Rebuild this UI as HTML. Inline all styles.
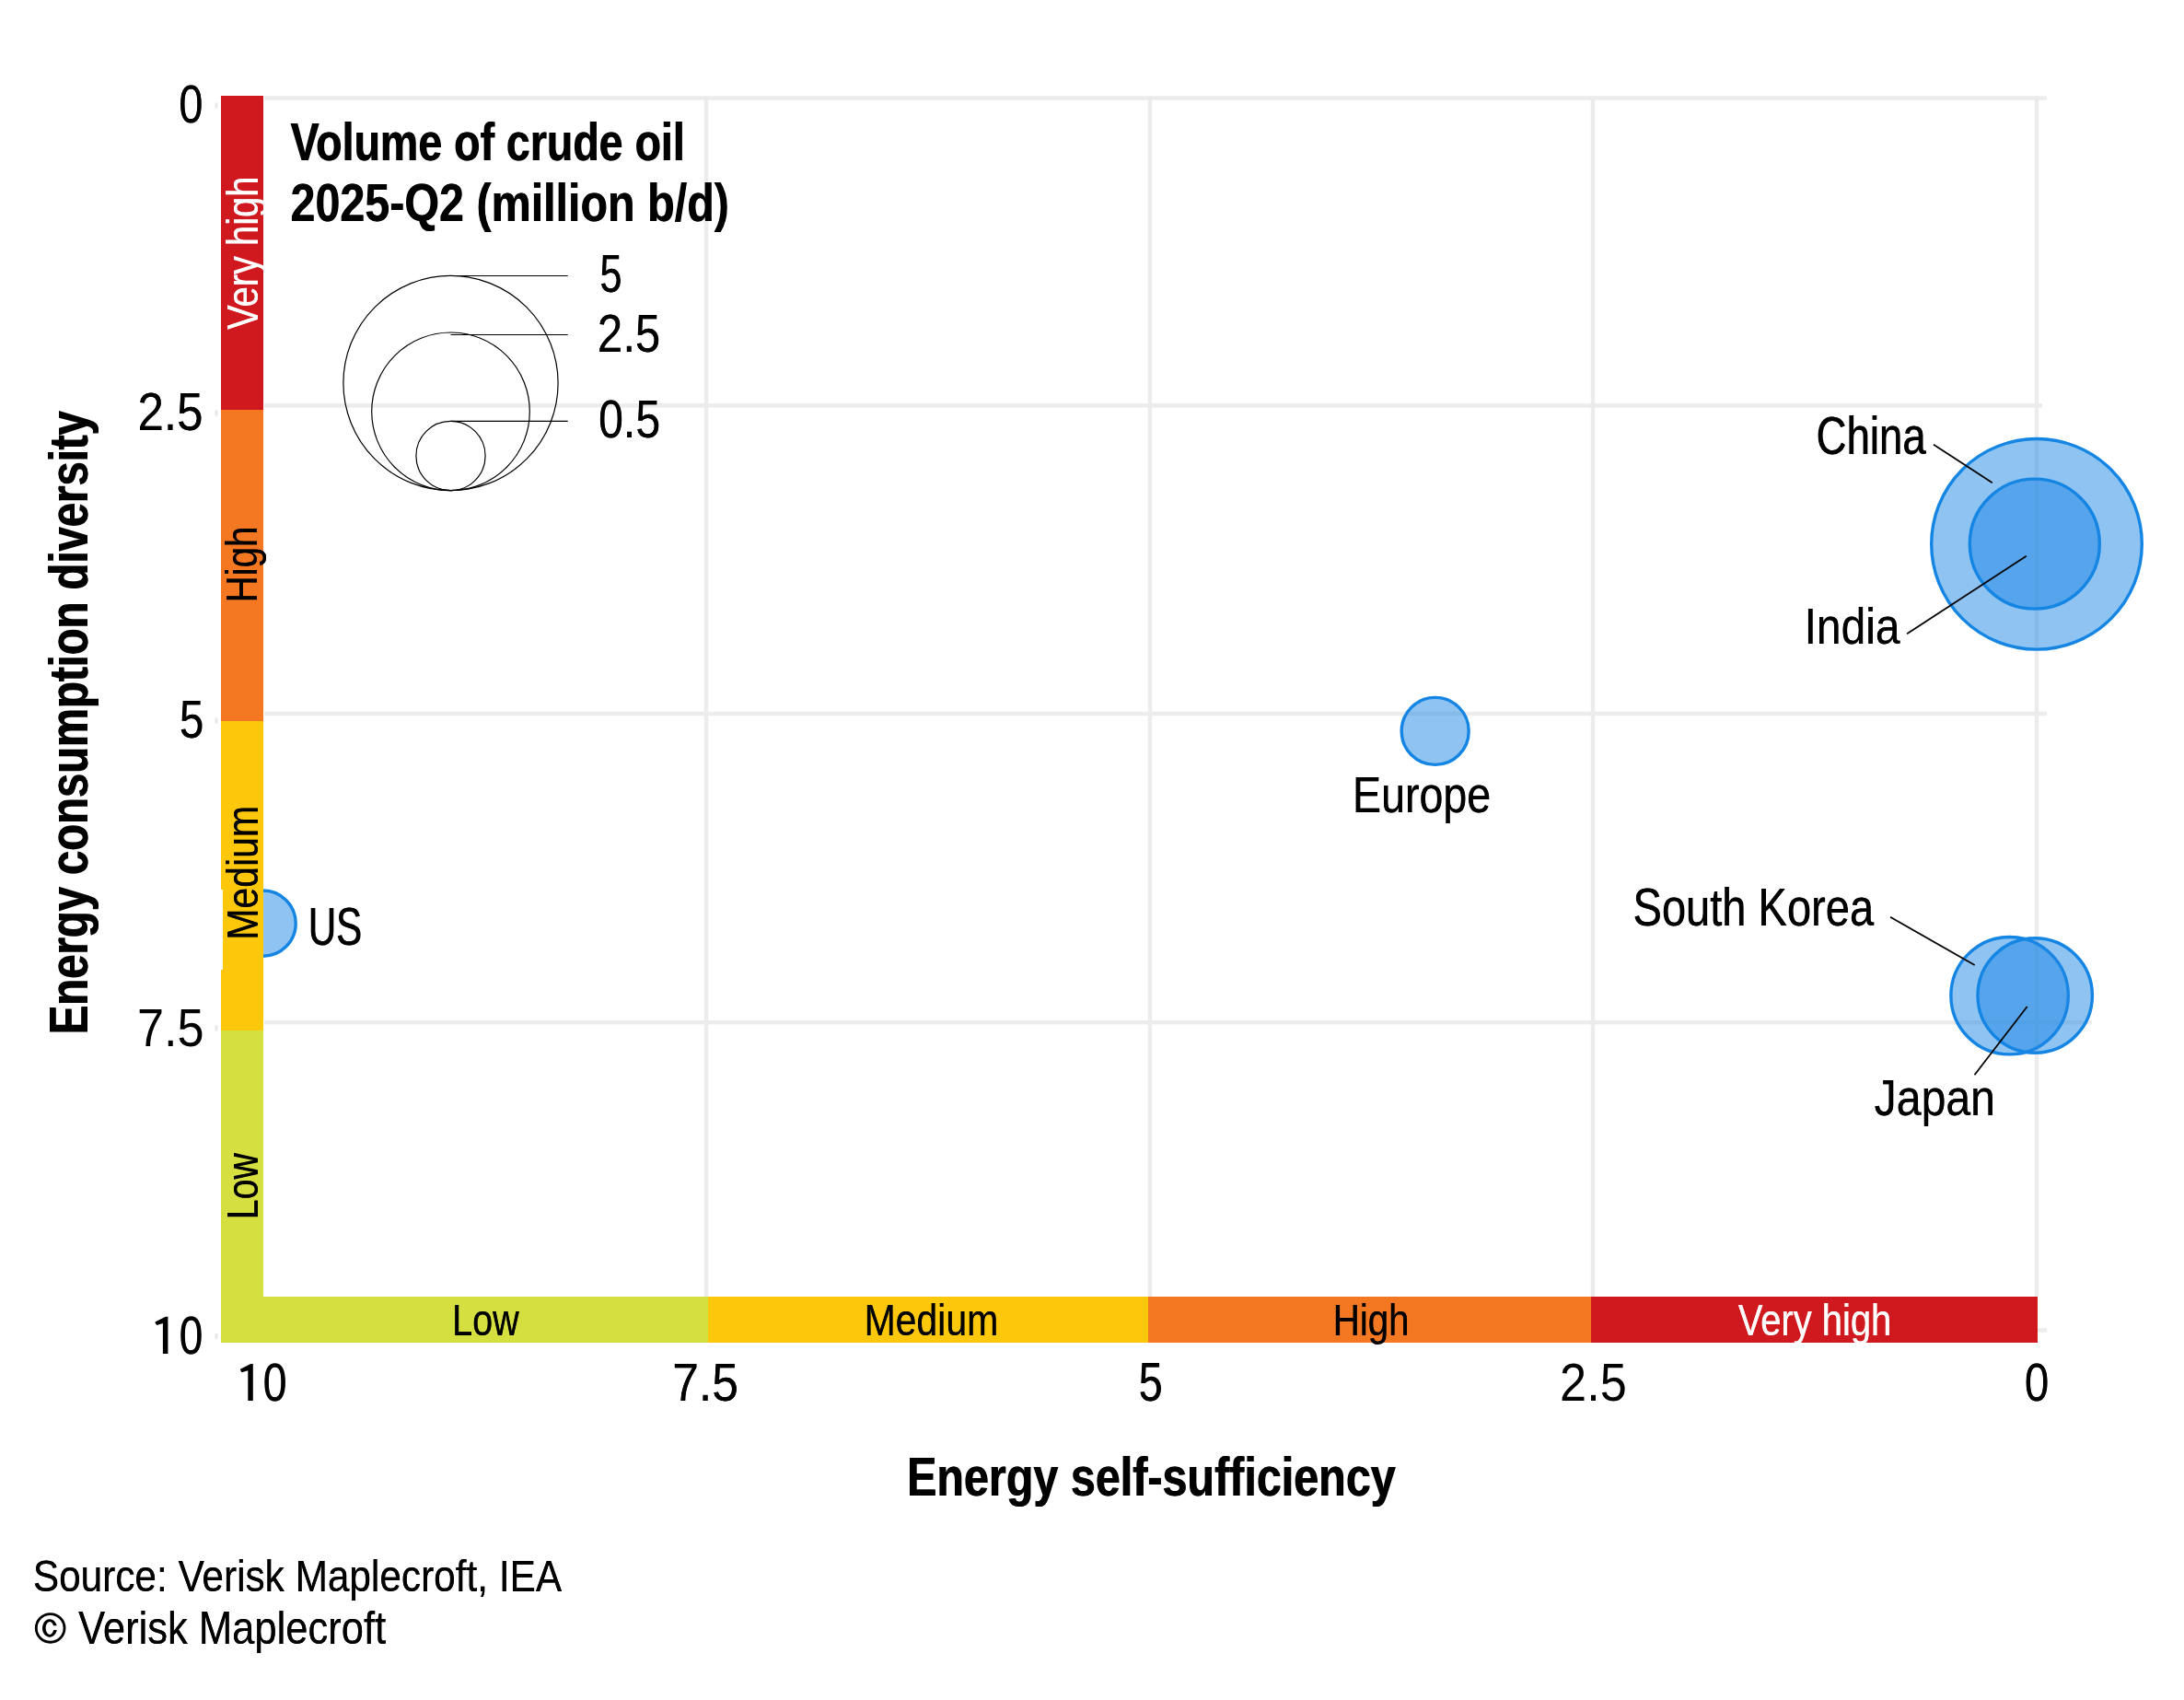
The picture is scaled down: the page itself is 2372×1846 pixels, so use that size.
<!DOCTYPE html>
<html><head><meta charset="utf-8"><style>
html,body{margin:0;padding:0;background:#fff;}
svg{display:block;}
text{font-family:"Liberation Sans",sans-serif;}
</style></head><body>
<svg width="2372" height="1846" viewBox="0 0 2372 1846">
<rect width="2372" height="1846" fill="#fff"/>
<rect x="287" y="104.30" width="1936" height="4.4" fill="#ECECEC"/>
<rect x="287" y="438.20" width="1931" height="4.4" fill="#ECECEC"/>
<rect x="287" y="772.80" width="1936" height="4.4" fill="#ECECEC"/>
<rect x="287" y="1108.00" width="1985" height="4.4" fill="#ECECEC"/>
<rect x="287" y="1442.30" width="1936" height="4.4" fill="#ECECEC"/>
<rect x="764.80" y="104.5" width="4.4" height="1303.5" fill="#ECECEC"/>
<rect x="1246.80" y="104.5" width="4.4" height="1303.5" fill="#ECECEC"/>
<rect x="1727.80" y="104.5" width="4.4" height="1303.5" fill="#ECECEC"/>
<rect x="2209.80" y="104.5" width="4.4" height="1303.5" fill="#ECECEC"/>
<circle cx="2212" cy="590.8" r="114.30" fill="#1E88E5" fill-opacity="0.5" stroke="#1585E4" stroke-width="3.4"/>
<circle cx="2209.8" cy="590.6" r="70.50" fill="#1E88E5" fill-opacity="0.5" stroke="#1585E4" stroke-width="3.4"/>
<circle cx="1558.7" cy="793.9" r="36.50" fill="#1E88E5" fill-opacity="0.5" stroke="#1585E4" stroke-width="3.4"/>
<circle cx="285.6" cy="1002.6" r="35.60" fill="#1E88E5" fill-opacity="0.5" stroke="#1585E4" stroke-width="3.4"/>
<circle cx="2182.6" cy="1081.2" r="63.70" fill="#1E88E5" fill-opacity="0.5" stroke="#1585E4" stroke-width="3.4"/>
<circle cx="2210.2" cy="1081.0" r="62.20" fill="#1E88E5" fill-opacity="0.5" stroke="#1585E4" stroke-width="3.4"/>
<rect x="240" y="104" width="46" height="341" fill="#D0191F"/>
<rect x="240" y="445" width="46" height="338" fill="#F37821"/>
<rect x="240" y="783" width="46" height="336" fill="#FDC70C"/>
<rect x="240" y="1119" width="46" height="339" fill="#D5E040"/>
<rect x="240" y="1408" width="529" height="50" fill="#D5E040"/>
<rect x="769" y="1408" width="478" height="50" fill="#FDC70C"/>
<rect x="1247" y="1408" width="481" height="50" fill="#F37821"/>
<rect x="1728" y="1408" width="485" height="50" fill="#D0191F"/>
<rect x="240" y="966" width="2" height="87" fill="#fff"/>
<rect x="233.5" y="111.5" width="3" height="6" fill="#e8e8e8"/>
<rect x="233.5" y="445.5" width="3" height="6" fill="#e8e8e8"/>
<rect x="233.5" y="779.5" width="3" height="6" fill="#e8e8e8"/>
<rect x="233.5" y="1113.5" width="3" height="6" fill="#e8e8e8"/>
<rect x="233.5" y="1448" width="3" height="6" fill="#e8e8e8"/>
<line x1="2100" y1="482.7" x2="2163.8" y2="524.2" stroke="#000" stroke-width="1.8"/>
<line x1="2071.1" y1="688.2" x2="2200.8" y2="603.8" stroke="#000" stroke-width="1.8"/>
<line x1="2053" y1="995.8" x2="2144.7" y2="1048" stroke="#000" stroke-width="1.8"/>
<line x1="2144.5" y1="1167.3" x2="2201.7" y2="1093" stroke="#000" stroke-width="1.8"/>
<circle cx="489.5" cy="416.0" r="116.6" fill="none" stroke="#000" stroke-width="1.2"/>
<circle cx="489.5" cy="446.8" r="85.8" fill="none" stroke="#000" stroke-width="1.2"/>
<circle cx="489.5" cy="495.0" r="37.6" fill="none" stroke="#000" stroke-width="1.2"/>
<line x1="489.5" y1="299.5" x2="616.7" y2="299.5" stroke="#000" stroke-width="1.2"/>
<line x1="489.5" y1="363.5" x2="616.7" y2="363.5" stroke="#000" stroke-width="1.2"/>
<line x1="489.5" y1="457.4" x2="616.7" y2="457.4" stroke="#000" stroke-width="1.2"/>
<circle cx="54.65" cy="1767.9" r="15.35" fill="none" stroke="#000" stroke-width="2.85"/>
<path d="M61.7,1765.3 A8,9.75 0 1 0 61.8,1770.1 L58.17,1770.1 A4.4,6.95 0 1 1 58.08,1765.3 Z" fill="#000"/>
<polygon points="274.8,1481.0 274.8,1521.1 269.3,1521.1 269.3,1488.2 262.6,1490.3 260.8,1487.4 261.3,1486.4 272.3,1481.0" fill="#000"/>
<polygon points="182.4,1429.8 182.4,1469.9 176.9,1469.9 176.9,1437.0 170.2,1439.1 168.4,1436.2 168.9,1435.2 179.9,1429.8" fill="#000"/>
<g opacity="0.999">
<text x="194.16" y="132.60" font-size="56.96" font-weight="normal" fill="#000" textLength="26.06" lengthAdjust="spacingAndGlyphs">0</text>
<text x="194.59" y="132.60" font-size="56.96" font-weight="normal" fill="#000" textLength="26.06" lengthAdjust="spacingAndGlyphs">0</text>
<text x="149.43" y="467.30" font-size="57.68" font-weight="normal" fill="#000" textLength="70.90" lengthAdjust="spacingAndGlyphs">2.5</text>
<text x="149.61" y="467.30" font-size="57.68" font-weight="normal" fill="#000" textLength="70.90" lengthAdjust="spacingAndGlyphs">2.5</text>
<text x="194.77" y="801.00" font-size="57.68" font-weight="normal" fill="#000" textLength="26.28" lengthAdjust="spacingAndGlyphs">5</text>
<text x="195.22" y="801.00" font-size="57.68" font-weight="normal" fill="#000" textLength="26.28" lengthAdjust="spacingAndGlyphs">5</text>
<text x="149.01" y="1135.50" font-size="58.12" font-weight="normal" fill="#000" textLength="72.65" lengthAdjust="spacingAndGlyphs">7.5</text>
<text x="194.50" y="1469.90" font-size="57.97" font-weight="normal" fill="#000" textLength="25.55" lengthAdjust="spacingAndGlyphs">0</text>
<text x="195.07" y="1469.90" font-size="57.97" font-weight="normal" fill="#000" textLength="25.55" lengthAdjust="spacingAndGlyphs">0</text>
<text x="285.39" y="1520.80" font-size="57.68" font-weight="normal" fill="#000" textLength="25.71" lengthAdjust="spacingAndGlyphs">0</text>
<text x="285.92" y="1520.80" font-size="57.68" font-weight="normal" fill="#000" textLength="25.71" lengthAdjust="spacingAndGlyphs">0</text>
<text x="730.15" y="1521.00" font-size="57.97" font-weight="normal" fill="#000" textLength="71.74" lengthAdjust="spacingAndGlyphs">7.5</text>
<text x="730.30" y="1521.00" font-size="57.97" font-weight="normal" fill="#000" textLength="71.74" lengthAdjust="spacingAndGlyphs">7.5</text>
<text x="1236.40" y="1521.30" font-size="58.41" font-weight="normal" fill="#000" textLength="25.93" lengthAdjust="spacingAndGlyphs">5</text>
<text x="1236.94" y="1521.30" font-size="58.41" font-weight="normal" fill="#000" textLength="25.93" lengthAdjust="spacingAndGlyphs">5</text>
<text x="1694.06" y="1521.00" font-size="57.68" font-weight="normal" fill="#000" textLength="72.70" lengthAdjust="spacingAndGlyphs">2.5</text>
<text x="2198.64" y="1521.00" font-size="57.54" font-weight="normal" fill="#000" textLength="26.42" lengthAdjust="spacingAndGlyphs">0</text>
<text x="2199.06" y="1521.00" font-size="57.54" font-weight="normal" fill="#000" textLength="26.42" lengthAdjust="spacingAndGlyphs">0</text>
<text x="651.15" y="317.00" font-size="56.52" font-weight="normal" fill="#000" textLength="24.01" lengthAdjust="spacingAndGlyphs">5</text>
<text x="651.82" y="317.00" font-size="56.52" font-weight="normal" fill="#000" textLength="24.01" lengthAdjust="spacingAndGlyphs">5</text>
<text x="648.83" y="381.80" font-size="56.67" font-weight="normal" fill="#000" textLength="68.24" lengthAdjust="spacingAndGlyphs">2.5</text>
<text x="649.09" y="381.80" font-size="56.67" font-weight="normal" fill="#000" textLength="68.24" lengthAdjust="spacingAndGlyphs">2.5</text>
<text x="649.91" y="475.00" font-size="56.52" font-weight="normal" fill="#000" textLength="67.06" lengthAdjust="spacingAndGlyphs">0.5</text>
<text x="650.24" y="475.00" font-size="56.52" font-weight="normal" fill="#000" textLength="67.06" lengthAdjust="spacingAndGlyphs">0.5</text>
<text x="1972.37" y="493.20" font-size="57.25" font-weight="normal" fill="#000" textLength="118.96" lengthAdjust="spacingAndGlyphs">China</text>
<text x="1973.00" y="493.20" font-size="57.25" font-weight="normal" fill="#000" textLength="118.96" lengthAdjust="spacingAndGlyphs">China</text>
<text x="1959.46" y="698.90" font-size="56.38" font-weight="normal" fill="#000" textLength="103.89" lengthAdjust="spacingAndGlyphs">India</text>
<text x="1959.82" y="698.90" font-size="56.38" font-weight="normal" fill="#000" textLength="103.89" lengthAdjust="spacingAndGlyphs">India</text>
<text x="1468.87" y="881.70" font-size="55.94" font-weight="normal" fill="#000" textLength="150.11" lengthAdjust="spacingAndGlyphs">Europe</text>
<text x="1469.31" y="881.70" font-size="55.94" font-weight="normal" fill="#000" textLength="150.11" lengthAdjust="spacingAndGlyphs">Europe</text>
<text x="334.46" y="1025.80" font-size="56.67" font-weight="normal" fill="#000" textLength="58.31" lengthAdjust="spacingAndGlyphs">US</text>
<text x="335.32" y="1025.80" font-size="56.67" font-weight="normal" fill="#000" textLength="58.31" lengthAdjust="spacingAndGlyphs">US</text>
<text x="1773.34" y="1005.10" font-size="56.67" font-weight="normal" fill="#000" textLength="261.56" lengthAdjust="spacingAndGlyphs">South Korea</text>
<text x="1773.80" y="1005.10" font-size="56.67" font-weight="normal" fill="#000" textLength="261.56" lengthAdjust="spacingAndGlyphs">South Korea</text>
<text x="2035.49" y="1210.90" font-size="56.38" font-weight="normal" fill="#000" textLength="131.38" lengthAdjust="spacingAndGlyphs">Japan</text>
<text x="2035.81" y="1210.90" font-size="56.38" font-weight="normal" fill="#000" textLength="131.38" lengthAdjust="spacingAndGlyphs">Japan</text>
<text x="490.94" y="1449.90" font-size="47.83" font-weight="normal" fill="#000" textLength="72.63" lengthAdjust="spacingAndGlyphs">Low</text>
<text x="491.33" y="1449.90" font-size="47.83" font-weight="normal" fill="#000" textLength="72.63" lengthAdjust="spacingAndGlyphs">Low</text>
<text x="938.43" y="1449.90" font-size="47.83" font-weight="normal" fill="#000" textLength="145.65" lengthAdjust="spacingAndGlyphs">Medium</text>
<text x="938.71" y="1449.90" font-size="47.83" font-weight="normal" fill="#000" textLength="145.65" lengthAdjust="spacingAndGlyphs">Medium</text>
<text x="1447.59" y="1450.00" font-size="47.83" font-weight="normal" fill="#000" textLength="82.82" lengthAdjust="spacingAndGlyphs">High</text>
<text x="1447.92" y="1450.00" font-size="47.83" font-weight="normal" fill="#000" textLength="82.82" lengthAdjust="spacingAndGlyphs">High</text>
<text x="1887.64" y="1449.90" font-size="47.83" font-weight="normal" fill="#fff" textLength="166.42" lengthAdjust="spacingAndGlyphs">Very high</text>
<text x="1888.01" y="1449.90" font-size="47.83" font-weight="normal" fill="#fff" textLength="166.42" lengthAdjust="spacingAndGlyphs">Very high</text>
<text transform="translate(279.80,0) rotate(-90)" x="-358.06" y="0" font-size="48.26" font-weight="normal" fill="#fff" textLength="166.27" lengthAdjust="spacingAndGlyphs">Very high</text>
<text transform="translate(279.80,0) rotate(-90)" x="-357.65" y="0" font-size="48.26" font-weight="normal" fill="#fff" textLength="166.27" lengthAdjust="spacingAndGlyphs">Very high</text>
<text transform="translate(279.20,0) rotate(-90)" x="-654.51" y="0" font-size="47.39" font-weight="normal" fill="#000" textLength="82.74" lengthAdjust="spacingAndGlyphs">High</text>
<text transform="translate(279.20,0) rotate(-90)" x="-654.21" y="0" font-size="47.39" font-weight="normal" fill="#000" textLength="82.74" lengthAdjust="spacingAndGlyphs">High</text>
<text transform="translate(279.50,0) rotate(-90)" x="-1020.87" y="0" font-size="47.83" font-weight="normal" fill="#000" textLength="145.86" lengthAdjust="spacingAndGlyphs">Medium</text>
<text transform="translate(279.50,0) rotate(-90)" x="-1020.60" y="0" font-size="47.83" font-weight="normal" fill="#000" textLength="145.86" lengthAdjust="spacingAndGlyphs">Medium</text>
<text transform="translate(279.50,0) rotate(-90)" x="-1324.43" y="0" font-size="47.83" font-weight="normal" fill="#000" textLength="71.97" lengthAdjust="spacingAndGlyphs">Low</text>
<text transform="translate(279.50,0) rotate(-90)" x="-1324.01" y="0" font-size="47.83" font-weight="normal" fill="#000" textLength="71.97" lengthAdjust="spacingAndGlyphs">Low</text>
<text transform="translate(95.30,0) rotate(-90)" x="-1123.66" y="0" font-size="59.28" font-weight="bold" fill="#000" textLength="676.96" lengthAdjust="spacingAndGlyphs">Energy consumption diversity</text>
<text transform="translate(95.30,0) rotate(-90)" x="-1122.69" y="0" font-size="59.28" font-weight="bold" fill="#000" textLength="676.96" lengthAdjust="spacingAndGlyphs">Energy consumption diversity</text>
<text x="984.66" y="1623.90" font-size="59.42" font-weight="bold" fill="#000" textLength="530.67" lengthAdjust="spacingAndGlyphs">Energy self-sufficiency</text>
<text x="985.47" y="1623.90" font-size="59.42" font-weight="bold" fill="#000" textLength="530.67" lengthAdjust="spacingAndGlyphs">Energy self-sufficiency</text>
<text x="315.25" y="174.00" font-size="56.81" font-weight="bold" fill="#000" textLength="428.17" lengthAdjust="spacingAndGlyphs">Volume of crude oil</text>
<text x="315.99" y="174.00" font-size="56.81" font-weight="bold" fill="#000" textLength="428.17" lengthAdjust="spacingAndGlyphs">Volume of crude oil</text>
<text x="315.21" y="239.90" font-size="57.39" font-weight="bold" fill="#000" textLength="476.43" lengthAdjust="spacingAndGlyphs">2025-Q2 (million b/d)</text>
<text x="315.77" y="239.90" font-size="57.39" font-weight="bold" fill="#000" textLength="476.43" lengthAdjust="spacingAndGlyphs">2025-Q2 (million b/d)</text>
<text x="35.77" y="1727.80" font-size="48.26" font-weight="normal" fill="#000" textLength="574.18" lengthAdjust="spacingAndGlyphs">Source: Verisk Maplecroft, IEA</text>
<text x="35.96" y="1727.80" font-size="48.26" font-weight="normal" fill="#000" textLength="574.18" lengthAdjust="spacingAndGlyphs">Source: Verisk Maplecroft, IEA</text>
<text x="85.12" y="1784.90" font-size="49.28" font-weight="normal" fill="#000" textLength="334.00" lengthAdjust="spacingAndGlyphs">Verisk Maplecroft</text>
<text x="85.29" y="1784.90" font-size="49.28" font-weight="normal" fill="#000" textLength="334.00" lengthAdjust="spacingAndGlyphs">Verisk Maplecroft</text>
</g>
</svg>
</body></html>
